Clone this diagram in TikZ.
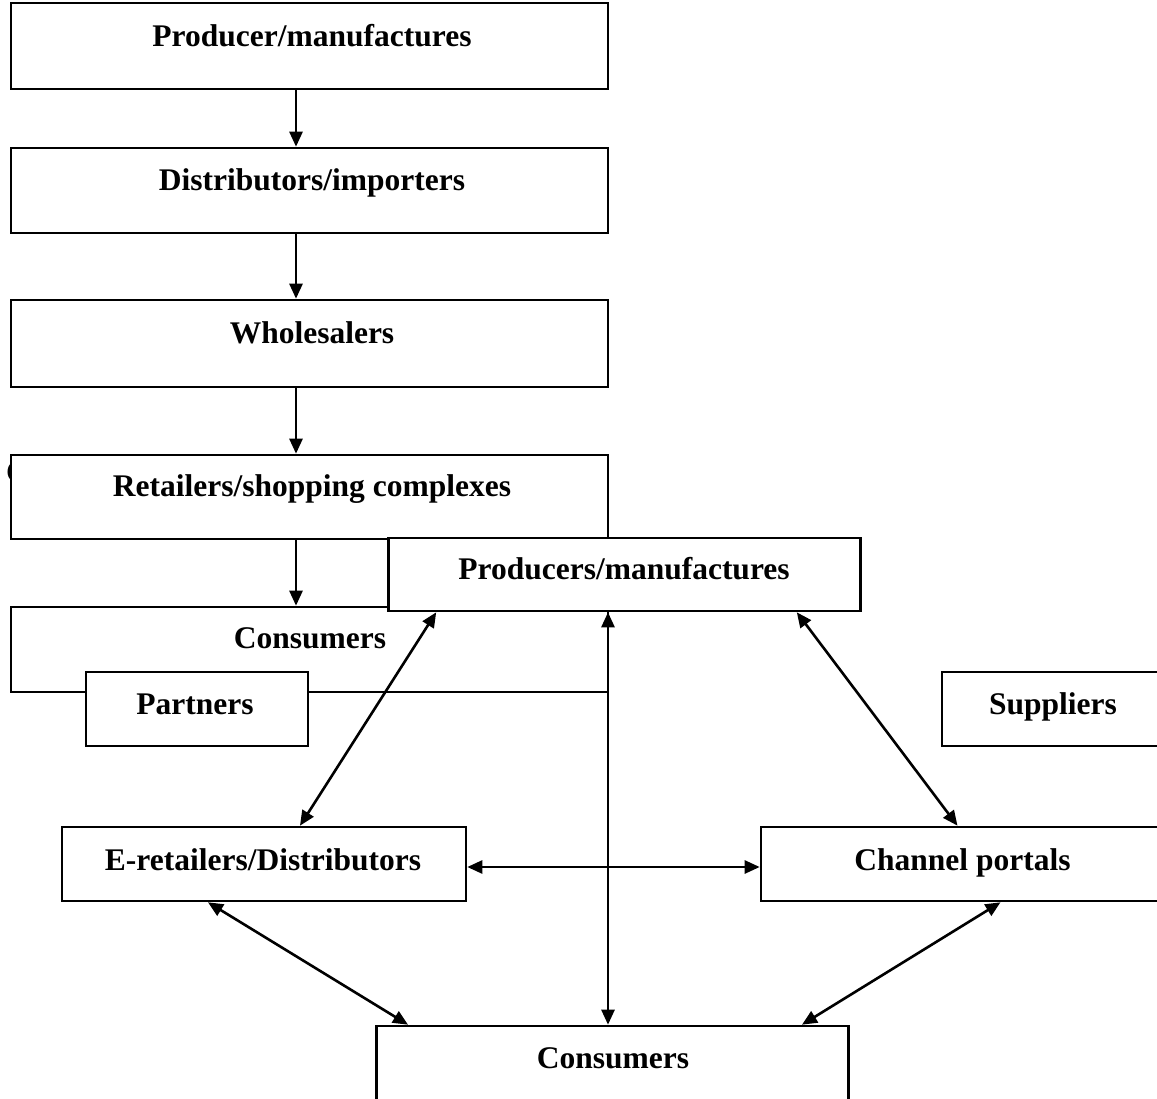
\documentclass[tikz,border=0pt]{standalone}
\usepackage{fontspec}
\setmainfont{Liberation Serif}
\usetikzlibrary{arrows.meta}
\begin{document}
\begin{tikzpicture}[x=1pt,y=-1pt,
  boxs/.style={draw=black,fill=white,line width=2.6pt,inner sep=0pt,rectangle},
  lbl/.style={font=\fontsize{31.5}{36}\selectfont\bfseries,inner sep=0pt,anchor=base},
  conn/.style={line width=2.6pt,-{Triangle[length=15pt,width=13pt]}},
  biconn/.style={line width=2.6pt,{Triangle[length=15pt,width=13pt]}-{Triangle[length=15pt,width=13pt]}}]
\useasboundingbox (0,0) rectangle (1157,1099);
% partial glyph behind retailers box
\node[lbl,anchor=base west] (glyph) at (6,482) {C};
% left column
\node[boxs,minimum width=597pt,minimum height=86pt] (b1) at (309.5,46) {};
\node[lbl] (t1) at (312,47) {Producer/manufactures};
\node[boxs,minimum width=597pt,minimum height=85pt] (b2) at (309.5,190.5) {};
\node[lbl] (t2) at (312,190.5) {Distributors/importers};
\node[boxs,minimum width=597pt,minimum height=87pt] (b3) at (309.5,343.5) {};
\node[lbl] (t3) at (312,344) {Wholesalers};
\node[boxs,minimum width=597pt,minimum height=84pt] (b4) at (309.5,497) {};
\node[lbl] (t4) at (312,496) {Retailers/shopping complexes};
\node[boxs,minimum width=597pt,minimum height=85pt] (b5) at (309.5,649.5) {};
\node[lbl] (t5) at (310,648) {Consumers};
\draw[conn] ([xshift=-13.5pt]b1.south) -- ([xshift=-13.5pt]b2.north);
\draw[conn] ([xshift=-13.5pt]b2.south) -- ([xshift=-13.5pt]b3.north);
\draw[conn] ([xshift=-13.5pt]b3.south) -- ([xshift=-13.5pt]b4.north);
\draw[conn] ([xshift=-13.5pt]b4.south) -- ([xshift=-13.5pt]b5.north);
% partners / suppliers
\node[boxs,minimum width=222pt,minimum height=74pt] (pa) at (197,709) {};
\node[lbl] (tpa) at (195,714) {Partners};
\node[boxs,minimum width=222pt,minimum height=74pt] (su) at (1053,709) {};
\node[lbl] (tsu) at (1053,714) {Suppliers};
% network
\node[boxs,minimum width=472pt,minimum height=73pt] (pr) at (624.5,574.5) {};
\node[lbl] (tpr) at (624,579) {Producers/manufactures};
\node[boxs,minimum width=404pt,minimum height=74pt] (er) at (264,864) {};
\node[lbl] (ter) at (263,870) {E-retailers/Distributors};
\node[boxs,minimum width=403pt,minimum height=74pt] (ch) at (962.5,864) {};
\node[lbl] (tch) at (962.5,870) {Channel portals};
\node[boxs,minimum width=472pt,minimum height=84pt] (co) at (612.5,1068) {};
\node[lbl] (tco) at (613,1068) {Consumers};
\draw[biconn] ([xshift=49pt]pr.south west) -- ([xshift=36pt]er.north);
\draw[biconn] ([xshift=-65pt]pr.south east) -- ([xshift=-5pt]ch.north);
\draw[biconn] ([xshift=-16.5pt]pr.south) -- ([xshift=-4.5pt]co.north);
\draw[biconn] ([yshift=-3pt]er.east) -- ([yshift=-3pt]ch.west);
\draw[biconn] ([xshift=-56pt]er.south) -- ([xshift=-204.5pt]co.north);
\draw[biconn] ([xshift=38pt]ch.south) -- ([xshift=189.5pt]co.north);
\end{tikzpicture}
\end{document}
